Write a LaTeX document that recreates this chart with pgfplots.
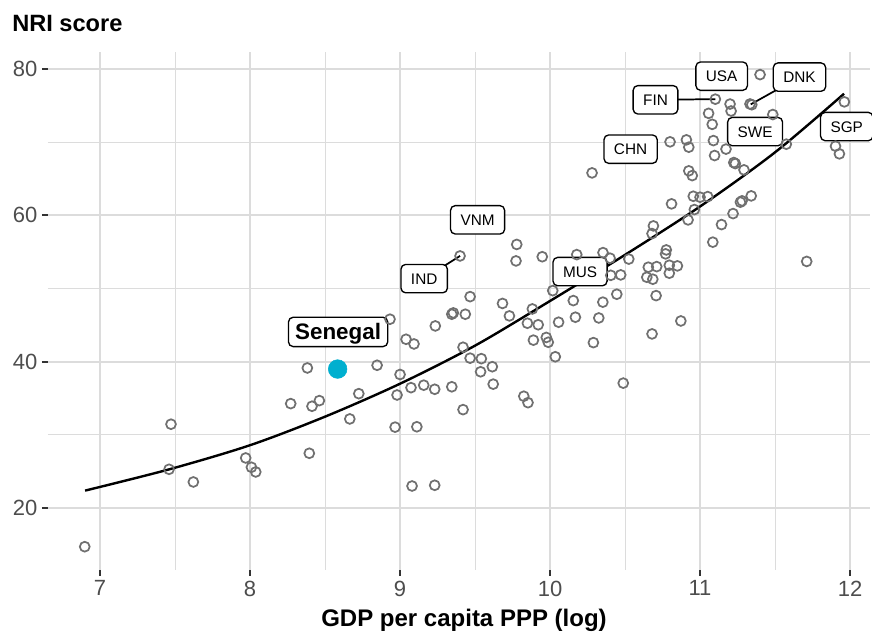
\documentclass[border=0pt]{standalone}
\usepackage{pgfplots}
\pgfplotsset{compat=1.18}
\usepackage{fontspec}
\setmainfont{Liberation Sans}

\definecolor{ptgrey}{HTML}{707070}
\definecolor{gridgrey}{HTML}{DCDCDC}
\definecolor{senegal}{HTML}{00AFCF}
\definecolor{ticklab}{HTML}{4D4D4D}

\tikzset{lab/.style={draw=black, fill=white, rounded corners=3.5pt, line width=1pt,
    font=\fontsize{11.5}{13}\selectfont, inner xsep=7.5pt, inner ysep=6.5pt,
    text height=8.3pt, text depth=0pt}}

% countries: log GDP per capita PPP vs NRI score
\pgfplotstableread{
x y
6.898 14.74
7.473 31.47
7.460 25.31
7.622 23.58
7.971 26.86
8.009 25.59
8.038 24.95
8.271 34.28
8.413 33.92
8.462 34.69
8.382 39.15
8.395 27.50
8.665 32.19
8.725 35.64
8.847 39.52
8.933 45.81
9.040 43.07
9.093 42.43
9.235 44.89
9.345 46.49
9.355 46.67
9.435 46.49
9.000 38.26
8.980 35.46
9.073 36.46
9.158 36.80
9.231 36.24
9.345 36.58
9.420 41.98
9.467 40.49
9.420 33.46
8.967 31.07
9.112 31.12
9.080 23.03
9.231 23.13
9.400 54.45
9.778 56.02
9.773 53.77
9.948 54.34
10.178 54.63
10.353 54.90
10.400 54.14
10.525 54.02
10.405 51.80
10.471 51.86
10.018 49.71
10.155 48.35
10.352 48.14
10.445 49.22
10.169 46.08
10.325 45.98
10.289 42.61
10.057 45.40
9.882 47.21
9.849 45.26
9.921 45.05
9.729 46.26
9.683 47.96
9.889 42.95
9.975 43.32
9.988 42.66
10.035 40.68
10.488 37.08
9.467 48.89
9.542 40.42
9.615 39.32
9.537 38.63
9.621 36.94
9.825 35.29
9.853 34.41
10.280 65.79
10.655 52.91
10.711 52.99
10.645 51.54
10.685 51.27
10.795 53.18
10.849 53.09
10.795 52.09
10.775 55.27
10.770 54.73
10.689 58.55
10.680 57.50
10.707 49.03
10.872 45.57
10.680 43.80
10.810 61.56
10.920 59.37
10.962 60.78
10.955 62.60
11.000 62.47
11.051 62.55
11.143 58.73
11.085 56.33
11.220 60.23
11.269 61.79
11.280 61.97
11.341 62.65
11.711 53.70
10.925 66.07
10.948 65.42
10.800 70.03
10.909 70.30
10.925 69.30
11.089 70.20
11.097 68.16
11.173 69.04
11.225 67.20
11.235 67.06
11.293 66.20
11.057 73.92
11.081 72.42
11.102 75.86
11.200 75.19
11.207 74.24
11.333 75.20
11.345 75.10
11.400 79.21
11.485 73.76
11.575 69.71
11.962 75.49
11.903 69.44
11.929 68.39
}\countries

\begin{document}
\begin{tikzpicture}
\begin{axis}[
  at={(0,0)}, anchor=south west,
  scale only axis, width=616.5pt, height=388.5pt,
  xmin=6.653, xmax=12.133, ymin=11.56, ymax=82.3,
  xtick={7,...,12}, ytick={20,40,60,80},
  minor xtick={7.5,8.5,9.5,10.5,11.5}, minor ytick={30,50,70},
  grid=both,
  major grid style={gridgrey, line width=1.5pt},
  minor grid style={gridgrey, line width=0.8pt},
  axis line style={draw=none},
  tick align=outside, tick pos=left,
  major tick length=4.5pt, minor tick length=0pt,
  major tick style={line width=1.4pt, color=black!80},
  ticklabel style={font=\fontsize{16.5}{18}\selectfont, text=ticklab},
  /pgf/number format/assume math mode=true,
  clip=false,
]
\addplot[only marks, mark=o, mark size=3.7pt, color=ptgrey,
  mark options={line width=1.3pt}] table {\countries};
\addplot[black, line width=1.8pt, smooth] coordinates {
  (6.9,22.4) (7.46,25.3) (8,28.6) (8.5,32.5) (9,37.0) (9.5,42.2)
  (10,48.3) (10.5,54.6) (11,61.2) (11.5,68.6) (11.96,76.6)};
\addplot[only marks, mark=*, mark size=7pt, color=senegal] coordinates {(8.584,39.0)};

\draw[line width=1.3pt] (axis cs:9.161,51.35) -- (axis cs:9.4,54.45);
\draw[line width=1.3pt] (axis cs:10.703,75.77) -- (axis cs:11.102,75.86);
\draw[line width=1.3pt] (axis cs:11.663,78.87) -- (axis cs:11.338,75.15);

\node[lab] at (axis cs:9.517,59.38) {VNM};
\node[lab] at (axis cs:9.161,51.35) {IND};
\node[lab] at (axis cs:10.2,52.31) {MUS};
\node[lab] at (axis cs:10.537,69.03) {CHN};
\node[lab] at (axis cs:10.703,75.77) {FIN};
\node[lab] at (axis cs:11.144,79.0) {USA};
\node[lab] at (axis cs:11.663,78.87) {DNK};
\node[lab] at (axis cs:11.367,71.43) {SWE};
\node[lab] at (axis cs:11.978,72.12) {SGP};
\node[lab, font=\bfseries\fontsize{16.8}{19}\selectfont, inner xsep=5pt,
  inner ysep=5pt, text height=12pt] at (axis cs:8.587,44.07) {Senegal};
\end{axis}
\node[anchor=base west, inner sep=0pt, font=\bfseries\fontsize{17.7}{20}\selectfont]
  at (-27pt,403.5pt) {NRI score};
\node[anchor=base, inner sep=0pt, font=\bfseries\fontsize{18}{20}\selectfont]
  at (312pt,-42.75pt) {GDP per capita PPP (log)};
\pgfresetboundingbox
\path[use as bounding box] (-36pt,-48pt) rectangle (618pt,427.5pt);
\end{tikzpicture}
\end{document}
